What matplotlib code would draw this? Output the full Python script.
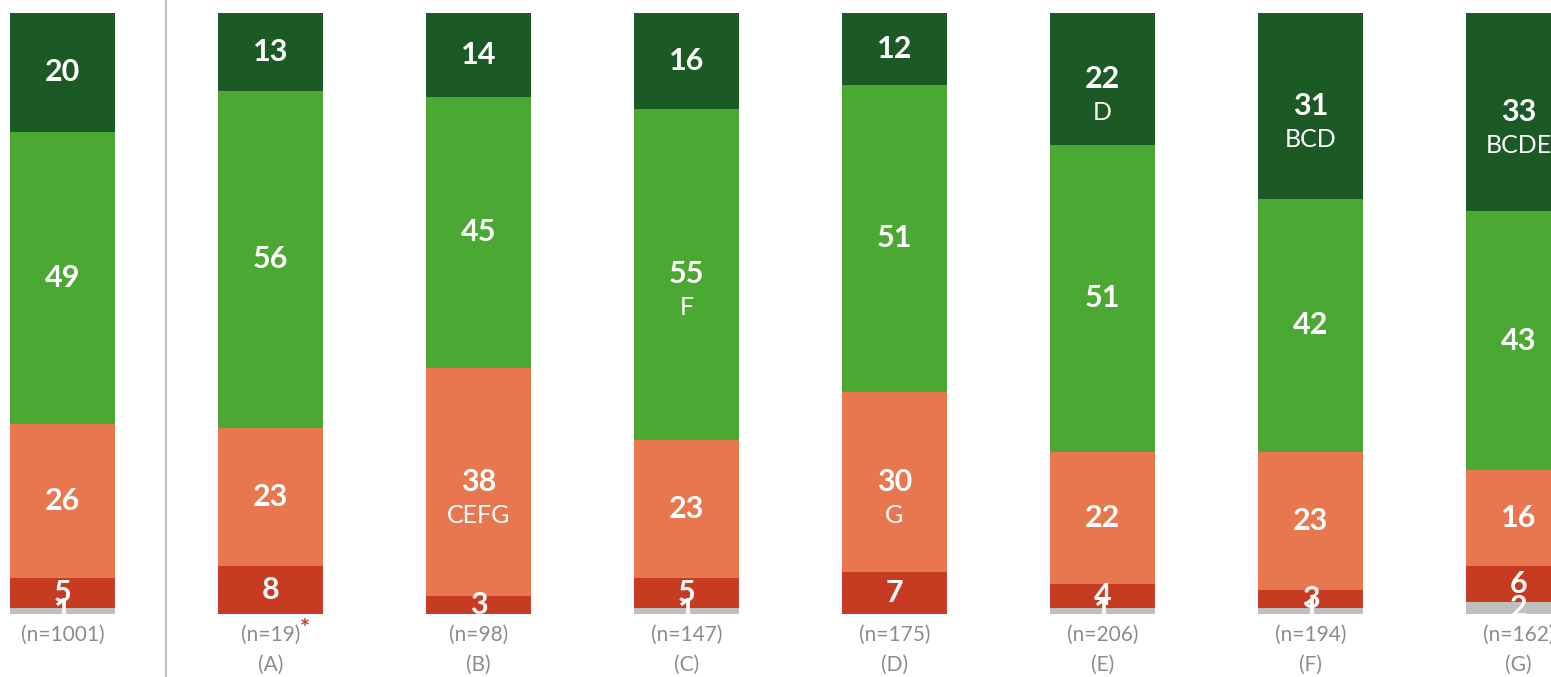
import numpy as np
import matplotlib.pyplot as plt
from matplotlib.transforms import blended_transform_factory

plt.rcParams['font.family'] = ['Lato', 'DejaVu Sans']

# data, bottom to top
groups = ['', '(A)', '(B)', '(C)', '(D)', '(E)', '(F)', '(G)']
sizes = ['(n=1001)', '(n=19)', '(n=98)', '(n=147)', '(n=175)', '(n=206)', '(n=194)', '(n=162)']
grey = [1, 0, 0, 1, 0, 1, 1, 2]
red = [5, 8, 3, 5, 7, 4, 3, 6]
orange = [26, 23, 38, 23, 30, 22, 23, 16]
green = [49, 56, 45, 55, 51, 51, 42, 43]
darkgreen = [20, 13, 14, 16, 12, 22, 31, 33]

# significance letters per segment
sig_orange = ['', '', 'CEFG', '', 'G', '', '', '']
sig_green = ['', '', '', 'F', '', '', '', '']
sig_dark = ['', '', '', '', '', 'D', 'BCD', 'BCDE']

colors = ['#BFBFBF', '#C73B22', '#E8774F', '#4BA832', '#1C5A25']

series = [grey, red, orange, green, darkgreen]
sigs = [[''] * 8, [''] * 8, sig_orange, sig_green, sig_dark]

M = np.array(series, dtype=float)
totals = M.sum(axis=0)
P = M / totals * 100

fig = plt.figure(figsize=(15.51, 6.77), dpi=100)
ax = fig.add_axes([0, 0.093, 1, 0.888])
x = np.arange(len(groups))
bottom = np.zeros(len(groups))
for k, (vals, col) in enumerate(zip(series, colors)):
    h = P[k]
    ax.bar(x, h, bottom=bottom, width=0.505, color=col, linewidth=0)
    for i in range(len(x)):
        if vals[i] == 0:
            continue
        yc = bottom[i] + h[i] / 2
        ax.text(x[i], yc, str(vals[i]), color='white', fontsize=22, fontweight='bold',
                ha='center', va='center', clip_on=True)
        if sigs[k][i]:
            ax.annotate(sigs[k][i], (x[i], yc), xytext=(0, -24), textcoords='offset points',
                        color='white', fontsize=18, ha='center', va='center',
                        annotation_clip=False)
    bottom += h

ax.set_xlim(-0.30, 7.156)
ax.set_ylim(0, 100)
ax.axis('off')

tr = blended_transform_factory(ax.transData, ax.transAxes)
for i in range(len(x)):
    ax.text(x[i], -0.035, sizes[i], transform=tr, ha='center', va='center',
            fontsize=15, color='#8C8C8C', clip_on=False)
    if groups[i]:
        ax.text(x[i], -0.085, groups[i], transform=tr, ha='center', va='center',
                fontsize=15, color='#8C8C8C', clip_on=False)

# small-base warning on group A
ax.annotate('*', (x[1], -0.035), xycoords=tr, xytext=(25, 4), textcoords='offset points',
            ha='center', va='center', fontsize=17, fontweight='bold', color='#C73B22',
            annotation_clip=False)

ax.plot([0.5, 0.5], [-0.12, 1.03], transform=tr, color='#BFBFBF', lw=1.5, clip_on=False)

fig.savefig('out.png', dpi=100)
